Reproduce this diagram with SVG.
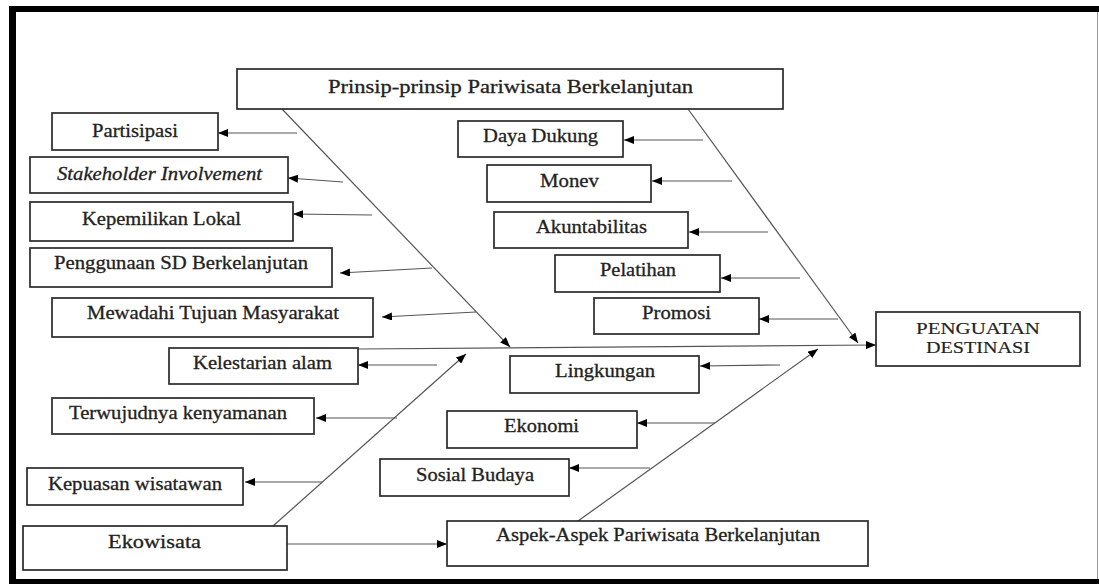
<svg xmlns="http://www.w3.org/2000/svg" width="1099" height="584" viewBox="0 0 1099 584">
<style>
.box{fill:#fff;stroke:#2a2a2a;stroke-width:1.7}
.lbl{font-family:"Liberation Serif","Times New Roman",serif;font-size:19px;fill:#222;stroke:#222;stroke-width:0.3}
.con{stroke:#555;stroke-width:1.2;fill:none;marker-end:url(#ah)}
</style>
<defs>
<marker id="ah" markerUnits="userSpaceOnUse" markerWidth="10" markerHeight="8" refX="10" refY="4" orient="auto">
<path d="M0,0 L10,4 L0,8 z" fill="#000"/>
</marker>
</defs>
<rect x="0" y="0" width="1099" height="584" fill="#fff"/>
<g id="frame">
<rect x="9" y="6" width="1090" height="6" fill="#000"/>
<rect x="9" y="6" width="7" height="578" fill="#000"/>
<rect x="9" y="579" width="1090" height="5" fill="#000"/>
<line x1="1097.5" y1="12" x2="1097.5" y2="579" stroke="#999" stroke-width="1"/>
</g>
<g id="connectors">
<line class="con" x1="358" y1="349" x2="876" y2="345"/>
<line class="con" x1="282" y1="109" x2="510" y2="347"/>
<line class="con" x1="688" y1="109" x2="858" y2="343"/>
<line class="con" x1="273" y1="526" x2="466" y2="354"/>
<line class="con" x1="578" y1="521" x2="818" y2="349"/>
<line class="con" x1="282" y1="544" x2="447" y2="544"/>
<line class="con" x1="297" y1="133" x2="218" y2="133"/>
<line class="con" x1="343" y1="182" x2="288" y2="178"/>
<line class="con" x1="372" y1="215" x2="293" y2="214"/>
<line class="con" x1="432" y1="268" x2="340" y2="273"/>
<line class="con" x1="476" y1="312" x2="382" y2="317"/>
<line class="con" x1="437" y1="365" x2="358" y2="365"/>
<line class="con" x1="397" y1="418" x2="316" y2="418"/>
<line class="con" x1="322" y1="482" x2="245" y2="482"/>
<line class="con" x1="703" y1="140" x2="624" y2="140"/>
<line class="con" x1="732" y1="181" x2="652" y2="181"/>
<line class="con" x1="768" y1="232" x2="689" y2="232"/>
<line class="con" x1="800" y1="278" x2="721" y2="278"/>
<line class="con" x1="838" y1="319" x2="759" y2="319"/>
<line class="con" x1="780" y1="365" x2="700" y2="366"/>
<line class="con" x1="715" y1="423" x2="637" y2="423"/>
<line class="con" x1="650" y1="468" x2="569" y2="468"/>
</g>
<g id="prinsip"><rect class="box" x="237" y="69" width="546" height="40"/><text class="lbl" x="328" y="93" textLength="365" lengthAdjust="spacingAndGlyphs">Prinsip-prinsip Pariwisata Berkelanjutan</text></g>
<g id="partisipasi"><rect class="box" x="52" y="113" width="166" height="37"/><text class="lbl" x="92" y="137" textLength="86" lengthAdjust="spacingAndGlyphs">Partisipasi</text></g>
<g id="stakeholder"><rect class="box" x="30" y="157" width="258" height="36"/><text class="lbl" x="57" y="180" textLength="205" lengthAdjust="spacingAndGlyphs" font-style="italic">Stakeholder Involvement</text></g>
<g id="kepemilikan"><rect class="box" x="30" y="202" width="263" height="39"/><text class="lbl" x="82" y="225" textLength="159" lengthAdjust="spacingAndGlyphs">Kepemilikan Lokal</text></g>
<g id="penggunaan"><rect class="box" x="30" y="248" width="302" height="39"/><text class="lbl" x="54" y="269" textLength="254" lengthAdjust="spacingAndGlyphs">Penggunaan SD Berkelanjutan</text></g>
<g id="mewadahi"><rect class="box" x="52" y="298" width="321" height="39"/><text class="lbl" x="87" y="319" textLength="252" lengthAdjust="spacingAndGlyphs">Mewadahi Tujuan Masyarakat</text></g>
<g id="kelestarian"><rect class="box" x="169" y="348" width="189" height="36"/><text class="lbl" x="193" y="369" textLength="139" lengthAdjust="spacingAndGlyphs">Kelestarian alam</text></g>
<g id="terwujudnya"><rect class="box" x="52" y="398" width="262" height="36"/><text class="lbl" x="69" y="419" textLength="218" lengthAdjust="spacingAndGlyphs">Terwujudnya kenyamanan</text></g>
<g id="kepuasan"><rect class="box" x="27" y="468" width="216" height="37"/><text class="lbl" x="48" y="490" textLength="174" lengthAdjust="spacingAndGlyphs">Kepuasan wisatawan</text></g>
<g id="ekowisata"><rect class="box" x="23" y="526" width="264" height="44"/><text class="lbl" x="108" y="548" textLength="93" lengthAdjust="spacingAndGlyphs">Ekowisata</text></g>
<g id="aspek"><rect class="box" x="447" y="521" width="421" height="45"/><text class="lbl" x="496" y="541" textLength="324" lengthAdjust="spacingAndGlyphs">Aspek-Aspek Pariwisata Berkelanjutan</text></g>
<g id="sosial"><rect class="box" x="380" y="459" width="189" height="37"/><text class="lbl" x="416" y="481" textLength="118" lengthAdjust="spacingAndGlyphs">Sosial Budaya</text></g>
<g id="ekonomi"><rect class="box" x="447" y="411" width="190" height="37"/><text class="lbl" x="504" y="432" textLength="75" lengthAdjust="spacingAndGlyphs">Ekonomi</text></g>
<g id="lingkungan"><rect class="box" x="510" y="356" width="189" height="37"/><text class="lbl" x="555" y="377" textLength="100" lengthAdjust="spacingAndGlyphs">Lingkungan</text></g>
<g id="promosi"><rect class="box" x="594" y="298" width="165" height="36"/><text class="lbl" x="642" y="319" textLength="69" lengthAdjust="spacingAndGlyphs">Promosi</text></g>
<g id="pelatihan"><rect class="box" x="555" y="255" width="165" height="37"/><text class="lbl" x="600" y="276" textLength="76" lengthAdjust="spacingAndGlyphs">Pelatihan</text></g>
<g id="akuntabilitas"><rect class="box" x="494" y="212" width="194" height="36"/><text class="lbl" x="536" y="233" textLength="111" lengthAdjust="spacingAndGlyphs">Akuntabilitas</text></g>
<g id="monev"><rect class="box" x="487" y="165" width="164" height="37"/><text class="lbl" x="540" y="187" textLength="59" lengthAdjust="spacingAndGlyphs">Monev</text></g>
<g id="daya-dukung"><rect class="box" x="458" y="121" width="165" height="36"/><text class="lbl" x="483" y="142" textLength="115" lengthAdjust="spacingAndGlyphs">Daya Dukung</text></g>
<g id="penguatan"><rect class="box" x="876" y="312" width="204" height="54"/><text class="lbl" x="916" y="334" textLength="124" lengthAdjust="spacingAndGlyphs" style="font-size:17px;stroke-width:0.15">PENGUATAN</text><text class="lbl" x="926" y="353" textLength="104" lengthAdjust="spacingAndGlyphs" style="font-size:17px;stroke-width:0.15">DESTINASI</text></g>
</svg>
